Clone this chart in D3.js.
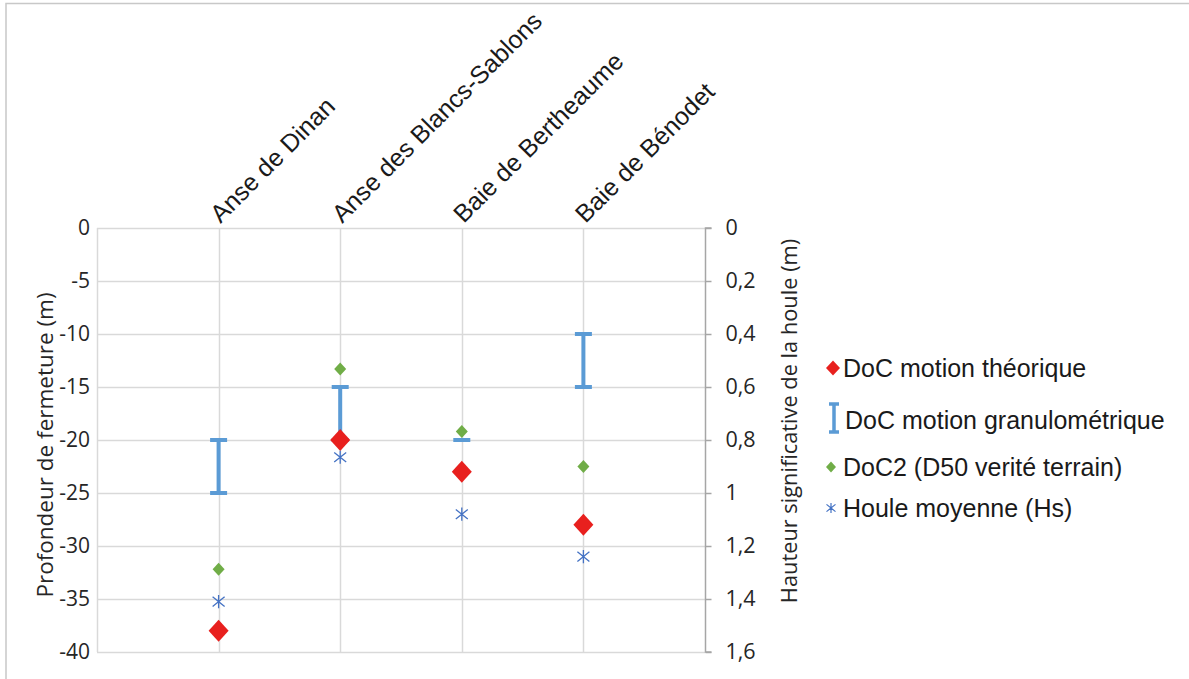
<!DOCTYPE html>
<html><head><meta charset="utf-8">
<script src="https://cdn.jsdelivr.net/npm/d3@7"></script>
<style>body{margin:0;background:#fff}svg{display:block}</style>
</head><body>
<svg id="c" width="1189" height="679"></svg>
<script>
const categories = ["Anse de Dinan", "Anse des Blancs-Sablons", "Baie de Bertheaume", "Baie de Bénodet"];
const docTheorique = [-38, -20, -23, -28];
const docGranuloTop = [-20, -15, -20, -10];
const docGranuloBottom = [-25, -20, -20, -15];
const doc2 = [-32.2, -13.3, -19.2, -22.5];
const houleHs = [1.41, 0.865, 1.08, 1.24];
const leftTicks = [0, -5, -10, -15, -20, -25, -30, -35, -40];
const rightTicks = [0, 0.2, 0.4, 0.6, 0.8, 1, 1.2, 1.4, 1.6];
const legendLabels = ["DoC motion théorique", "DoC motion granulométrique", "DoC2 (D50 verité terrain)", "Houle moyenne (Hs)"];

const svg = d3.select("#c");
const L = 97, R = 705, T = 228, B = 652;
const x = d3.scalePoint().domain(categories).range([L, R]).padding(1);
const yL = d3.scaleLinear().domain([-40, 0]).range([B, T]);
const yR = d3.scaleLinear().domain([0, 1.6]).range([T, B]);
const grid = "#d9d9d9";

// frame
svg.append("path").attr("d", `M6,679 V3.5 H1189`).attr("fill", "none").attr("stroke", "#c8c8c8").attr("stroke-width", 1.5);

// horizontal gridlines
svg.append("g").selectAll("line").data(leftTicks).join("line")
  .attr("x1", L).attr("x2", R).attr("y1", d => Math.round(yL(d)) + 0.5).attr("y2", d => Math.round(yL(d)) + 0.5)
  .attr("stroke", grid).attr("stroke-width", 1.5);
// vertical gridlines
svg.append("g").selectAll("line").data(categories).join("line")
  .attr("x1", d => Math.round(x(d)) + 0.5).attr("x2", d => Math.round(x(d)) + 0.5).attr("y1", T).attr("y2", B)
  .attr("stroke", grid).attr("stroke-width", 1.5);
svg.append("line").attr("x1", L + 0.5).attr("x2", L + 0.5).attr("y1", T).attr("y2", B).attr("stroke", grid).attr("stroke-width", 1.5);

// left axis labels
const axL = svg.append("g").attr("transform", `translate(${L},0)`)
  .call(d3.axisLeft(yL).tickValues(leftTicks).tickSize(0).tickPadding(7).tickFormat(d => String(d)));
axL.select(".domain").remove();
axL.selectAll("text").attr("font-family", "Open Sans").attr("font-size", 21).attr("fill", "#262626");

// right axis
const axR = svg.append("g").attr("transform", `translate(${R + 0.5},0)`)
  .call(d3.axisRight(yR).tickValues(rightTicks).tickSize(6).tickPadding(14).tickFormat(d => String(d).replace(".", ",")));
axR.select(".domain").attr("stroke", "#a6a6a6").attr("stroke-width", 1.5).attr("d", `M6,${T}H0V${B}H6`);
axR.selectAll(".tick line").attr("stroke", "#a6a6a6").attr("stroke-width", 1.5);
axR.selectAll("text").attr("font-family", "Open Sans").attr("font-size", 21.5).attr("fill", "#262626");

// axis titles
svg.append("text").attr("transform", `translate(53,445) rotate(-90)`).attr("text-anchor", "middle")
  .attr("font-family", "Open Sans").attr("font-size", 22.5).attr("fill", "#262626").text("Profondeur de fermeture (m)");
svg.append("text").attr("transform", `translate(797,421) rotate(-90)`).attr("text-anchor", "middle")
  .attr("font-family", "Open Sans").attr("font-size", 21.8).attr("fill", "#262626").text("Hauteur significative de la houle (m)");

// category labels
svg.append("g").selectAll("text").data(categories).join("text")
  .attr("transform", d => `translate(${x(d) + 2},${T - 4}) rotate(-45)`)
  .attr("font-family", "Liberation Sans").attr("font-size", 25).attr("fill", "#1a1a1a").text(d => d);

// error bars
const blue = "#5b9bd5";
const eb = svg.append("g").attr("stroke", blue).attr("stroke-width", 4).attr("fill", "none");
categories.forEach((c, i) => {
  const cx = x(c), y1 = yL(docGranuloTop[i]), y2 = yL(docGranuloBottom[i]);
  eb.append("path").attr("d", `M${cx - 8.5},${y1}H${cx + 8.5}M${cx},${y1}V${y2}M${cx - 8.5},${y2}H${cx + 8.5}`);
});

// markers
const diamond = (w, h) => `M0,${-h}L${w},0L0,${h}L${-w},0Z`;
svg.append("g").selectAll("path").data(doc2).join("path")
  .attr("transform", (d, i) => `translate(${x(categories[i])},${yL(d)})`).attr("d", diamond(6, 6.5)).attr("fill", "#70ad47");

svg.append("g").selectAll("path").data(docTheorique).join("path")
  .attr("transform", (d, i) => `translate(${x(categories[i])},${yL(d)})`).attr("d", diamond(10, 11)).attr("fill", "#e8201e");

const star = (s) => `M${-s},${-s * 0.8}L${s},${s * 0.8}M${-s},${s * 0.8}L${s},${-s * 0.8}M0,${-s * 1.1}V${s * 1.1}`;
svg.append("g").selectAll("path").data(houleHs).join("path")
  .attr("transform", (d, i) => `translate(${x(categories[i])},${yR(d)})`).attr("d", star(6)).attr("stroke", "#4472c4").attr("stroke-width", 1.3).attr("fill", "none");

// legend
const lg = svg.append("g").attr("font-family", "Liberation Sans").attr("font-size", 25).attr("fill", "#1a1a1a");
const ly = [368, 420, 467, 508];
lg.append("path").attr("transform", `translate(833,${ly[0]})`).attr("d", diamond(7, 7.5)).attr("fill", "#e8201e");
lg.append("path").attr("d", `M829,404H839M834,404V432M829,432H839`).attr("stroke", blue).attr("stroke-width", 3.5).attr("fill", "none");
lg.append("path").attr("transform", `translate(831,${ly[2]})`).attr("d", diamond(5, 5.5)).attr("fill", "#70ad47");
lg.append("path").attr("transform", `translate(831,${ly[3]})`).attr("d", star(4.5)).attr("stroke", "#4472c4").attr("stroke-width", 1.2).attr("fill", "none");
lg.selectAll("text").data(legendLabels).join("text")
  .attr("x", (d, i) => i === 1 ? 845 : 843).attr("y", (d, i) => ly[i]).attr("dy", "0.35em").text(d => d);
</script>
</body></html>
